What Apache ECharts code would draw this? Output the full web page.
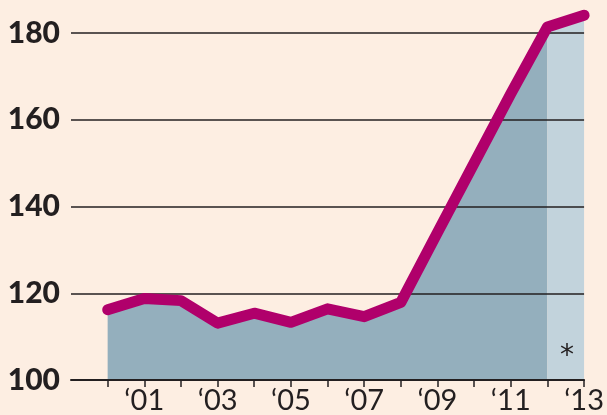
<!DOCTYPE html>
<html>
<head>
<meta charset="utf-8">
<script src="https://cdn.jsdelivr.net/npm/echarts@6/dist/echarts.min.js"></script>
<style>
  html, body { margin: 0; padding: 0; background: #fdeee2; }
  #chart { width: 607px; height: 415px; }
</style>
</head>
<body>
<div id="chart"></div>
<script>
// index values by year
var years = [2000, 2001, 2002, 2003, 2004, 2005, 2006, 2007, 2008, 2009, 2010, 2011, 2012, 2013];
var values = [116.2, 118.8, 118.3, 113.1, 115.4, 113.3, 116.4, 114.6, 117.9, 134, 150, 166, 181.4, 184.1];
var labelYears = [2001, 2003, 2005, 2007, 2009, 2011, 2013];
var yTicks = [100, 120, 140, 160, 180];
var estimateFrom = 2012; // last segment shaded lighter (*)

try {
  var full = years.map(function (y, i) { return [y, values[i]]; });
  var actual = full.filter(function (d) { return d[0] <= estimateFrom; });
  var estimate = full.filter(function (d) { return d[0] >= estimateFrom; });

  var option = {
    backgroundColor: '#fdeee2',
    animation: false,
    grid: { left: 71, right: 22, top: 33, bottom: 35 },
    xAxis: {
      type: 'value',
      min: 1999,
      max: 2013,
      interval: 1,
      z: 2,
      splitLine: { show: false },
      axisLine: { lineStyle: { color: '#231f20', width: 2 } },
      axisTick: {
        customValues: years,
        length: 7,
        lineStyle: { color: '#231f20', width: 1.5 }
      },
      axisLabel: {
        customValues: labelYears,
        formatter: function (v) { return '\u2018' + String(v).slice(2); },
        color: '#231f20',
        fontFamily: 'Lato',
        fontSize: 29,
        margin: 6
      }
    },
    yAxis: {
      type: 'value',
      min: yTicks[0],
      max: yTicks[yTicks.length - 1],
      interval: 20,
      z: 2,
      axisLine: { show: false },
      axisTick: { show: false },
      splitLine: { lineStyle: { color: '#231f20', width: 1.5 } },
      axisLabel: {
        color: '#231f20',
        fontFamily: 'Lato',
        fontWeight: 900,
        fontSize: 30,
        margin: 11
      }
    },
    series: [
      {
        type: 'line',
        data: actual,
        symbol: 'none',
        clip: false,
        lineStyle: { width: 0 },
        areaStyle: { color: '#94afbd', opacity: 1 },
        z: 1
      },
      {
        type: 'line',
        data: estimate,
        symbol: 'none',
        clip: false,
        lineStyle: { width: 0 },
        areaStyle: { color: '#c2d3dc', opacity: 1 },
        z: 1
      },
      {
        type: 'line',
        data: full,
        symbol: 'none',
        clip: false,
        lineStyle: { color: '#b0006b', width: 11, cap: 'round', join: 'round' },
        z: 3
      }
    ],
    graphic: {
      elements: [
        {
          type: 'text',
          x: 567,
          y: 357,
          z: 100,
          style: {
            text: '*',
            fill: '#231f20',
            fontSize: 28,
            fontFamily: 'DejaVu Sans',
            align: 'center',
            verticalAlign: 'middle'
          }
        }
      ]
    }
  };

  var chart = echarts.init(document.getElementById('chart'));
  chart.setOption(option);
} catch (err) {}
</script>
</body>
</html>
